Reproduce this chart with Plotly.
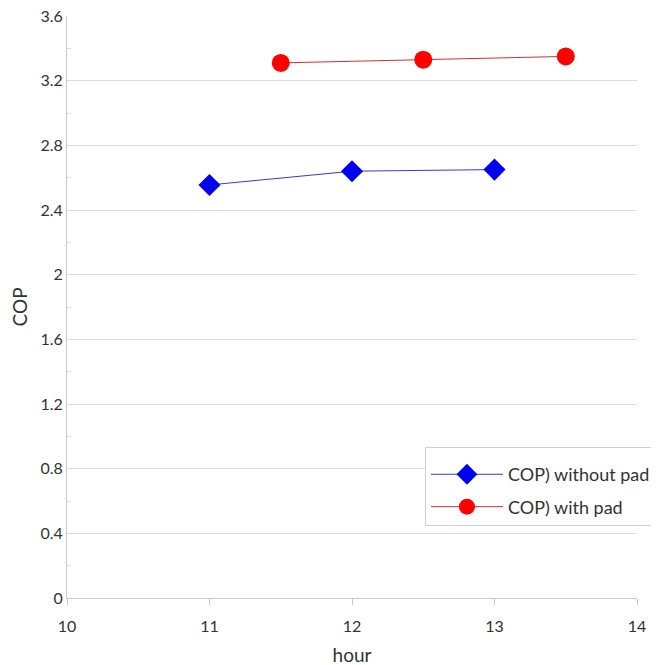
import plotly.graph_objects as go

hours_without = [11, 12, 13]
cop_without = [2.555, 2.64, 2.65]
hours_with = [11.5, 12.5, 13.5]
cop_with = [3.31, 3.33, 3.35]

fig = go.Figure()
fig.add_trace(go.Scatter(
    x=hours_without, y=cop_without, mode="lines+markers",
    name="COP) without pad\u00a0", legendgroup="a",
    line=dict(color="#3a3ac8", width=1),
    marker=dict(symbol="diamond", size=17, color="#0000ee", line=dict(width=0)),
))
fig.add_trace(go.Scatter(
    x=hours_with, y=cop_with, mode="lines+markers",
    name="COP) with pad", legendgroup="b",
    line=dict(color="#d03030", width=1),
    marker=dict(symbol="circle", size=18, color="#ff0000", line=dict(width=0)),
))

fig.update_layout(
    width=659, height=665,
    margin=dict(l=59, r=30, t=8, b=75, autoexpand=False),
    paper_bgcolor="white", plot_bgcolor="white",
    font=dict(family="Lato, Open Sans, sans-serif", size=16, color="#333333"),
    legend=dict(
        x=0.628, y=0.259, xanchor="left", yanchor="top",
        bgcolor="white", bordercolor="#d0d0d0", borderwidth=1,
        font=dict(size=18, color="#333333"),
        itemwidth=72, traceorder="grouped", tracegroupgap=6,
        title=dict(text=" ", font=dict(size=6)),
    ),
    showlegend=True,
)
fig.update_xaxes(
    range=[10, 14], tickvals=[10, 11, 12, 13, 14], showgrid=False,
    showline=True, linecolor="#c8c8c8", linewidth=1,
    ticks="outside", ticklen=6, tickcolor="#c8c8c8", ticklabelstandoff=8,
    zeroline=False, automargin=False, title=dict(text="hour", standoff=14),
)
fig.update_yaxes(
    range=[0, 3.6], tickvals=[0, 0.4, 0.8, 1.2, 1.6, 2, 2.4, 2.8, 3.2, 3.6],
    ticktext=["0", "0.4", "0.8", "1.2", "1.6", "2", "2.4", "2.8", "3.2", "3.6"],
    showgrid=True, gridcolor="#dcdcdc", gridwidth=1,
    showline=True, linecolor="#c8c8c8", linewidth=1,
    ticks="", zeroline=False, automargin=False, ticklabeloverflow="allow",
    minor=dict(tickvals=[0.2, 0.6, 1.0, 1.4, 1.8, 2.2, 2.6, 3.0, 3.4], ticks="inside",
               ticklen=4, tickcolor="#dddddd", showgrid=False),
    title=dict(text="COP", standoff=9),
)

fig.write_html("out.html")
